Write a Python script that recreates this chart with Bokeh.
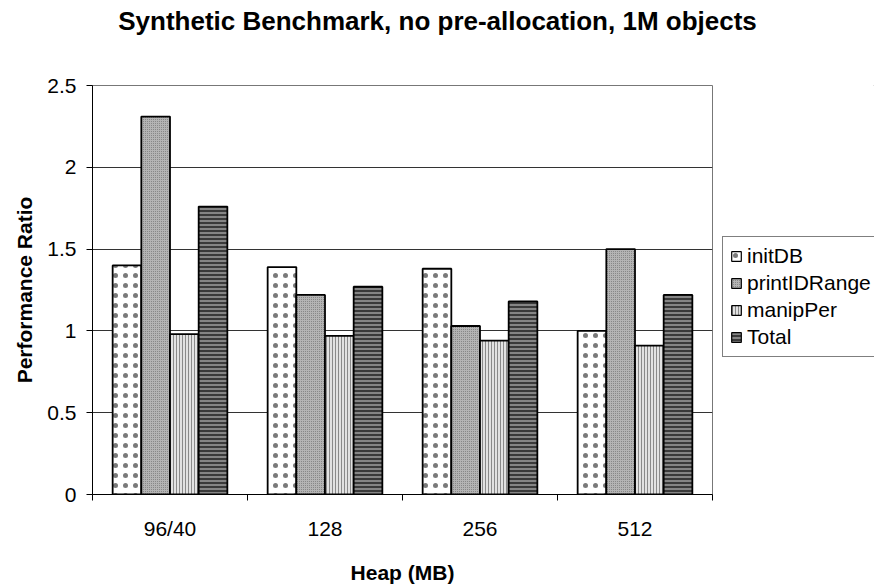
from bokeh.plotting import figure
from bokeh.layouts import row, column
from bokeh.models import (ColumnDataSource, Range1d, FixedTicker, Legend, LegendItem, Label)
from bokeh.embed import file_html
from bokeh.resources import INLINE

title_text = "Synthetic Benchmark, no pre-allocation, 1M objects"
categories = ["96/40", "128", "256", "512"]
series = ["initDB", "printIDRange", "manipPer", "Total"]
initDB = [1.40, 1.39, 1.38, 1.00]
printIDRange = [2.31, 1.22, 1.03, 1.50]
manipPer = [0.98, 0.97, 0.94, 0.91]
total = [1.76, 1.27, 1.18, 1.22]
values = [initDB, printIDRange, manipPer, total]

FONT = "Liberation Sans"
W, H, TOP_H, LEG_W = 874, 586, 50, 161


def bare(fig):
    fig.axis.visible = False
    fig.grid.grid_line_color = None
    fig.outline_line_color = None
    return fig


# ---- title strip spanning the whole width ----
p0 = bare(figure(width=W, height=TOP_H, output_backend="svg", toolbar_location=None,
                 x_range=Range1d(0, W), y_range=Range1d(0, TOP_H),
                 min_border_left=0, min_border_right=0, min_border_top=0,
                 min_border_bottom=0))
p0.add_layout(Label(x=W / 2, y=TOP_H - 20, text=title_text, text_align="center",
                    text_baseline="alphabetic", text_font=FONT, text_font_size="26px",
                    text_font_style="bold", text_color="black"))

# ---- main chart ----
p = figure(width=W - LEG_W, height=H - TOP_H, output_backend="svg", toolbar_location=None,
           x_range=Range1d(0, len(categories)), y_range=Range1d(0, 2.5),
           min_border_left=92, min_border_right=1, min_border_top=85 - TOP_H,
           min_border_bottom=85)

bw = 0.185
offsets = [-1.5 * bw, -0.5 * bw, 0.5 * bw, 1.5 * bw]
styles = [
    dict(fill_color="white", hatch_pattern="dot", hatch_color="#222222", hatch_scale=10,
         hatch_weight=0.5, hatch_alpha=0.6),
    dict(fill_color="#b4b4b4", hatch_pattern="dot", hatch_color="#7a7a7a", hatch_scale=2, hatch_weight=1),
    dict(fill_color="#e2e2e2", hatch_pattern="vertical_line", hatch_color="#8a8a8a", hatch_scale=3, hatch_weight=1),
    dict(fill_color="#3a3a3a", hatch_pattern="horizontal_line", hatch_color="#d0d0d0", hatch_scale=4, hatch_weight=1),
]

for k, name in enumerate(series):
    src = ColumnDataSource(dict(x=[i + 0.5 + offsets[k] for i in range(len(categories))],
                                top=values[k]))
    p.vbar(x="x", top="top", width=bw, bottom=0, source=src,
           line_color="black", line_width=1.8, **styles[k])

# x axis: labels at category centres, ticks at category boundaries
p.xaxis.ticker = FixedTicker(ticks=[i + 0.5 for i in range(len(categories))],
                             minor_ticks=list(range(len(categories) + 1)))
p.xaxis.major_label_overrides = {i + 0.5: c for i, c in enumerate(categories)}
p.xaxis.major_tick_line_color = None
p.xaxis.major_tick_out = 6
p.xaxis.minor_tick_out = 6
p.xaxis.minor_tick_in = 0
p.xaxis.minor_tick_line_color = "black"
p.xaxis.axis_line_color = "black"
p.xaxis.major_label_text_font = FONT
p.xaxis.major_label_text_font_size = "21px"
p.xaxis.major_label_text_color = "black"
p.xaxis.major_label_standoff = 16
p.xaxis.axis_label = "Heap (MB)"
p.xaxis.axis_label_text_font = FONT
p.xaxis.axis_label_text_font_size = "21px"
p.xaxis.axis_label_text_font_style = "bold"
p.xaxis.axis_label_text_color = "black"
p.xaxis.axis_label_standoff = 18

p.yaxis.ticker = FixedTicker(ticks=[0, 0.5, 1, 1.5, 2, 2.5])
p.yaxis.major_label_overrides = {0: "0", 1: "1", 2: "2"}
p.yaxis.major_tick_out = 6
p.yaxis.major_tick_in = 0
p.yaxis.minor_tick_line_color = None
p.yaxis.axis_line_color = "black"
p.yaxis.major_label_text_font = FONT
p.yaxis.major_label_text_font_size = "21px"
p.yaxis.major_label_text_color = "black"
p.yaxis.major_label_standoff = 10
p.yaxis.axis_label = "Performance Ratio"
p.yaxis.axis_label_text_font = FONT
p.yaxis.axis_label_text_font_size = "21px"
p.yaxis.axis_label_text_font_style = "bold"
p.yaxis.axis_label_text_color = "black"
p.yaxis.axis_label_standoff = 8

p.xgrid.grid_line_color = None
p.ygrid.grid_line_color = "#333333"
p.ygrid.grid_line_width = 1
p.outline_line_color = "#777777"
p.outline_line_width = 1

# ---- legend panel to the right of the plot ----
p2 = bare(figure(width=LEG_W, height=H - TOP_H, output_backend="svg", toolbar_location=None,
                 x_range=Range1d(0, 1), y_range=Range1d(0, 1),
                 min_border_left=0, min_border_right=0, min_border_top=0,
                 min_border_bottom=0))

items = []
for k, name in enumerate(series):
    # renderer kept outside the visible range; it only supplies the legend swatch
    r = p2.vbar(x=[5], top=[5], width=0.2, bottom=4,
                line_color="black", line_width=1.2, **styles[k])
    items.append(LegendItem(label=name, renderers=[r]))

legend = Legend(items=items, location=(9, 137), orientation="vertical",
                label_text_font=FONT, label_text_font_size="21px",
                label_text_color="black",
                glyph_width=12, glyph_height=12, spacing=3, padding=7,
                margin=0, label_standoff=5, label_height=20,
                border_line_color="black", border_line_width=1,
                background_fill_alpha=1)
p2.add_layout(legend, "center")

layout = column(p0, row(p, p2, spacing=0), spacing=0)
open("out.html", "w").write(file_html(layout, INLINE))
